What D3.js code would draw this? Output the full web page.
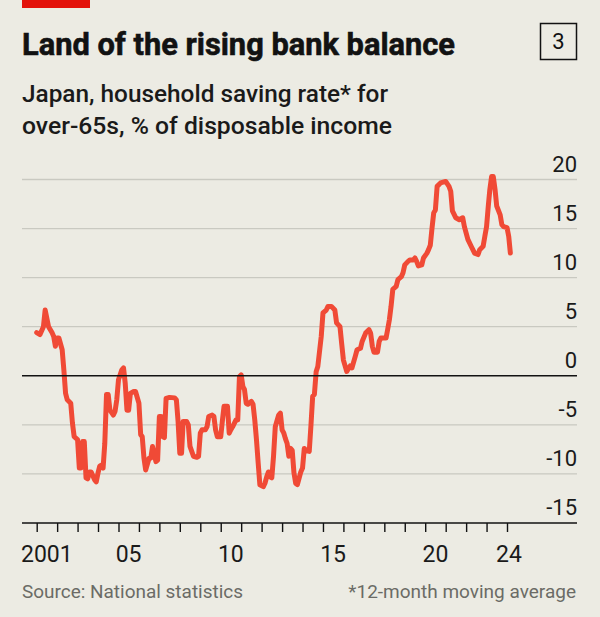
<!DOCTYPE html>
<html>
<head>
<meta charset="utf-8">
<script src="https://cdn.jsdelivr.net/npm/d3@7"></script>
<style>
  html, body { margin: 0; padding: 0; background: #ecebe3; }
  svg { display: block; font-family: Roboto, "Noto Sans", sans-serif; }
</style>
</head>
<body>
<svg id="chart" width="600" height="617"></svg>
<script>
// Japan, household saving rate for over-65s (12-month moving average), % of disposable income.
const months = [
  "2001-01","2001-03","2001-05","2001-06","2001-08","2001-10","2001-11","2001-12",
  "2002-01","2002-02","2002-04","2002-05","2002-06","2002-07","2002-09","2002-10","2002-11",
  "2003-01","2003-02","2003-03","2003-04","2003-05","2003-06","2003-07","2003-08","2003-09","2003-11","2003-12",
  "2004-01","2004-02","2004-03","2004-04","2004-05","2004-06","2004-07","2004-08","2004-10","2004-11","2004-12",
  "2005-01","2005-03","2005-04","2005-05","2005-06","2005-07","2005-08","2005-10","2005-11",
  "2006-01","2006-02","2006-03","2006-04","2006-05","2006-07","2006-08","2006-09","2006-11","2006-12",
  "2007-01","2007-02","2007-03","2007-04","2007-05","2007-07","2007-10","2007-11","2007-12",
  "2008-01","2008-02","2008-03","2008-05","2008-06","2008-07","2008-09","2008-11","2008-12",
  "2009-01","2009-02","2009-04","2009-05","2009-06","2009-08","2009-09","2009-10","2009-11",
  "2010-01","2010-02","2010-03","2010-05","2010-06","2010-07","2010-08","2010-10","2010-11","2010-12",
  "2011-01","2011-02","2011-03","2011-04","2011-05","2011-07","2011-08","2011-09","2011-10","2011-11","2011-12",
  "2012-02","2012-03","2012-04","2012-05","2012-06","2012-07","2012-08","2012-09","2012-11","2012-12",
  "2013-01","2013-02","2013-03","2013-04","2013-05","2013-06","2013-07","2013-08","2013-09","2013-10","2013-12",
  "2014-01","2014-02","2014-03","2014-05","2014-06","2014-07","2014-08","2014-09","2014-10","2014-12",
  "2015-01","2015-03","2015-04","2015-06","2015-08","2015-09","2015-11","2015-12",
  "2016-01","2016-03","2016-05","2016-06","2016-08","2016-09","2016-11","2016-12",
  "2017-02","2017-04","2017-05","2017-06","2017-07","2017-09","2017-10","2017-11",
  "2018-02","2018-03","2018-04","2018-05","2018-06","2018-08","2018-09","2018-11","2018-12",
  "2019-01","2019-03","2019-04","2019-06","2019-07","2019-08","2019-09","2019-11","2019-12",
  "2020-02","2020-03","2020-04","2020-05","2020-06","2020-07","2020-08","2020-10",
  "2021-01","2021-03","2021-04","2021-05","2021-07","2021-09","2021-11","2021-12",
  "2022-02","2022-04","2022-06","2022-08","2022-09","2022-11","2022-12",
  "2023-01","2023-02","2023-03","2023-04","2023-05","2023-06","2023-07","2023-09","2023-10","2023-11",
  "2024-01","2024-02","2024-03"
];

const saving = [
  4.4, 4.2, 5.0, 6.7, 5.0, 4.4, 4.0, 3.0,
  3.85, 3.85, 2.65, 0.6, -1.8, -2.45, -2.8, -4.8, -6.2,
  -6.5, -9.4, -9.4, -6.7, -6.7, -10.4, -10.5, -9.8, -9.8, -10.6, -10.8,
  -9.9, -9.2, -9.1, -9.4, -6.9, -1.9, -1.9, -3.5, -4.0, -3.6, -2.45,
  -0.4, 0.6, 0.8, -0.75, -3.5, -3.5, -1.8, -1.6, -1.6,
  -2.8, -6.0, -6.2, -8.4, -9.6, -8.4, -8.4, -7.2, -8.75, -8.6,
  -4.15, -4.15, -6.2, -6.3, -2.3, -2.2, -2.25, -2.45, -4.65,
  -7.9, -7.9, -4.65, -4.65, -5.0, -7.2, -8.2, -8.3, -8.2,
  -5.85, -5.5, -5.5, -5.2, -4.15, -4.0, -4.15, -5.5, -6.2,
  -6.2, -4.5, -3.1, -3.1, -5.85, -5.5, -5.2, -4.5, -4.5, -0.1,
  0.1, -1.1, -1.4, -2.8, -2.9, -2.6, -2.9, -4.5, -6.5, -8.9, -11.1,
  -11.3, -10.95, -10.3, -9.8, -10.3, -10.4, -8.2, -5.2, -4.0, -3.8,
  -5.5, -5.85, -6.4, -6.9, -8.2, -7.4, -7.6, -9.9, -10.95, -11.1, -9.8,
  -9.4, -7.4, -7.6, -7.7, -5.0, -2.1, -1.9, 0.4, 0.95, 4.0,
  6.4, 6.7, 7.07, 7.07, 6.7, 5.4, 5.0, 3.3,
  1.6, 0.44, 1.0, 0.8, 2.0, 2.65, 2.8, 3.5,
  4.35, 4.7, 4.35, 3.0, 2.4, 2.4, 3.5, 3.85,
  3.85, 4.7, 5.7, 7.07, 8.8, 9.1, 9.8, 10.1, 10.5,
  11.3, 11.66, 11.8, 11.8, 12.0, 11.66, 11.2, 11.3, 12.0,
  12.5, 12.85, 13.3, 15.0, 16.6, 16.9, 19.3, 19.65,
  19.8, 19.3, 18.8, 16.8, 16.1, 15.9, 16.1, 15.2,
  13.9, 13.2, 12.5, 12.35, 12.85, 13.2, 14.2,
  15.2, 17.3, 19.0, 20.3, 20.3, 19.0, 17.3, 16.4, 15.4, 15.2,
  15.1, 14.2, 12.5
];

const yTicks = [20, 15, 10, 5, 0, -5, -10, -15];
const yearLabels = [
  {year: 2001, text: "2001"},
  {year: 2005, text: "05"},
  {year: 2010, text: "10"},
  {year: 2015, text: "15"},
  {year: 2020, text: "20"},
  {year: 2024, text: "24"}
];

const parse = d3.timeParse("%Y-%m");
const data = months.map((m, i) => ({date: parse(m), value: saving[i]}));

const svg = d3.select("#chart");
const left = 22, right = 577;

// Background.
svg.append("rect").attr("width", 600).attr("height", 617).attr("fill", "#ecebe3");

// Red tag top-left.
svg.append("rect").attr("x", 22).attr("y", 0).attr("width", 68).attr("height", 8).attr("fill", "#e3120b");

// Title and subtitle.
svg.append("text")
  .attr("x", 22).attr("y", 55)
  .attr("font-size", 32).attr("font-weight", 700).attr("fill", "#121212")
  .attr("stroke", "#121212").attr("stroke-width", 0.6)
  .attr("textLength", 433).attr("lengthAdjust", "spacingAndGlyphs")
  .text("Land of the rising bank balance");

svg.append("rect")
  .attr("x", 540.5).attr("y", 23.5).attr("width", 36).attr("height", 36)
  .attr("fill", "none").attr("stroke", "#121212").attr("stroke-width", 1.5);
svg.append("text")
  .attr("x", 558.5).attr("y", 49).attr("text-anchor", "middle")
  .attr("font-size", 22).attr("fill", "#121212")
  .text("3");

const subtitle = [
  {text: "Japan, household saving rate* for", y: 102, w: 366},
  {text: "over-65s, % of disposable income", y: 134, w: 370}
];
svg.selectAll("text.sub")
  .data(subtitle)
  .join("text")
  .attr("class", "sub")
  .attr("x", 22).attr("y", d => d.y)
  .attr("font-size", 23).attr("font-weight", 500).attr("fill", "#1a1a1a")
  .attr("textLength", d => d.w).attr("lengthAdjust", "spacingAndGlyphs")
  .text(d => d.text);

// Scales.
const x = d3.scaleTime()
  .domain([new Date(2001, 0, 1), new Date(2024, 0, 1)])
  .range([36.7, 507]);
const y = d3.scaleLinear()
  .domain([-15, 20])
  .range([523, 179.5]);

// Horizontal gridlines.
svg.append("g")
  .selectAll("line")
  .data(yTicks.filter(d => d !== 0 && d !== -15))
  .join("line")
  .attr("x1", left).attr("x2", right)
  .attr("y1", d => y(d)).attr("y2", d => y(d))
  .attr("stroke", "#c9c9c1").attr("stroke-width", 1.3);

// Right-hand labels sit above their gridline.
svg.append("g")
  .selectAll("text")
  .data(yTicks)
  .join("text")
  .attr("x", right).attr("y", d => y(d) - 8)
  .attr("text-anchor", "end")
  .attr("font-size", 22).attr("fill", "#1a1a1a")
  .text(d => d);

// The data line.
const line = d3.line()
  .x(d => x(d.date))
  .y(d => y(d.value));

svg.append("path")
  .datum(data)
  .attr("d", line)
  .attr("fill", "none")
  .attr("stroke", "#f04a36")
  .attr("stroke-width", 5)
  .attr("stroke-linejoin", "round")
  .attr("stroke-linecap", "round");

// Zero line drawn over the series.
svg.append("line")
  .attr("x1", left).attr("x2", right)
  .attr("y1", y(0)).attr("y2", y(0))
  .attr("stroke", "#121212").attr("stroke-width", 1.6);

// Bottom axis: year ticks.
const xAxis = d3.axisBottom(x)
  .ticks(d3.timeYear.every(1))
  .tickSize(9)
  .tickFormat("");
const gx = svg.append("g")
  .attr("transform", `translate(0,${y(-15)})`)
  .call(xAxis);
gx.select(".domain").remove();
gx.selectAll(".tick line").attr("stroke", "#121212").attr("stroke-width", 1.4);

svg.append("line")
  .attr("x1", left).attr("x2", right)
  .attr("y1", y(-15)).attr("y2", y(-15))
  .attr("stroke", "#121212").attr("stroke-width", 1.6);

// Year labels sit mid-year, the last one under its tick.
svg.append("g")
  .selectAll("text")
  .data(yearLabels)
  .join("text")
  .attr("x", d => d.year === 2024 ? x(new Date(2024, 0, 1)) + 2 : x(new Date(d.year, 6, 1)))
  .attr("y", 562)
  .attr("text-anchor", "middle")
  .attr("font-size", 23).attr("fill", "#1a1a1a")
  .text(d => d.text);

// Footer.
svg.append("text")
  .attr("x", 22).attr("y", 598)
  .attr("font-size", 19).attr("fill", "#6b6b66")
  .attr("textLength", 221).attr("lengthAdjust", "spacingAndGlyphs")
  .text("Source: National statistics");
svg.append("text")
  .attr("x", 576).attr("y", 598)
  .attr("text-anchor", "end")
  .attr("font-size", 19).attr("fill", "#6b6b66")
  .text("*12-month moving average");
</script>
</body>
</html>
